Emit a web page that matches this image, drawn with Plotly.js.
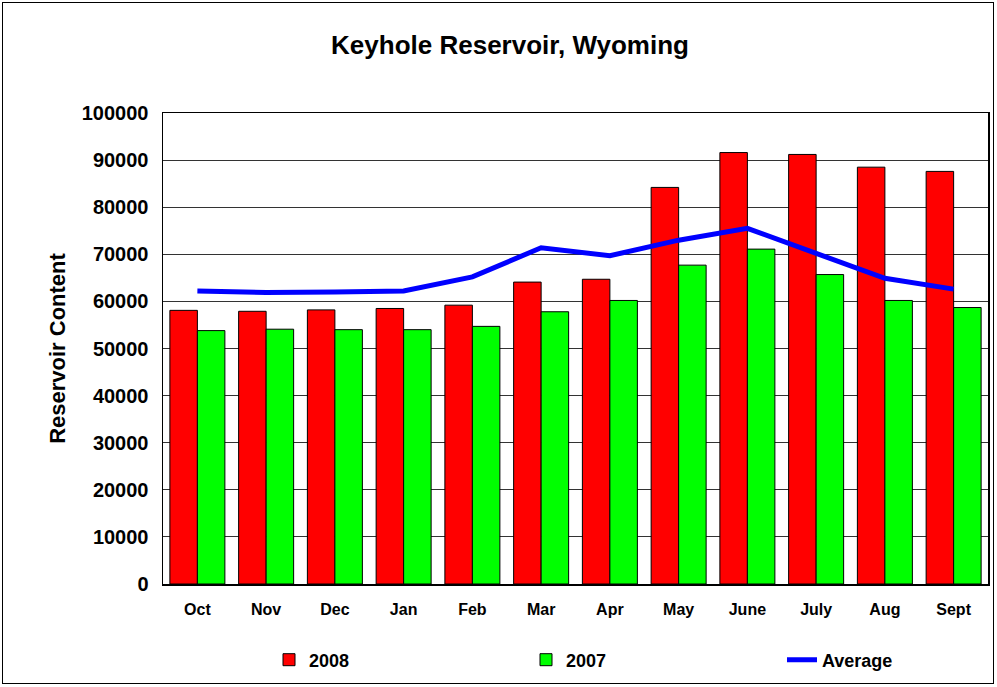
<!DOCTYPE html>
<html>
<head>
<meta charset="utf-8">
<script src="https://cdn.plot.ly/plotly-3.0.1.min.js"></script>
<style>
html,body{margin:0;padding:0;background:#fff;}
#wrap{position:relative;width:997px;height:687px;}
#chart{width:997px;height:687px;}
#frame{position:absolute;left:2px;top:2px;width:992px;height:682px;border:1.5px solid #000;box-sizing:border-box;pointer-events:none;}
</style>
</head>
<body>
<div id="wrap"><div id="chart"></div><div id="frame"></div></div>
<script>
const months = ["Oct","Nov","Dec","Jan","Feb","Mar","Apr","May","June","July","Aug","Sept"];
const y2008 = [58100,57900,58200,58500,59200,64100,64700,84200,91600,91200,88500,87600];
const y2007 = [53800,54100,54000,54000,54700,57800,60200,67700,71100,65700,60200,58700];
const avg = [62200,61900,62000,62200,65200,71400,69700,73000,75500,70300,64900,62600];

const font = "Liberation Sans, Arial, sans-serif";
const W = 997, H = 687;
function lg(px){ return {xref:"container", yref:"container", x:px/W, y:1-660/H, xanchor:"left", yanchor:"middle",
  orientation:"h", font:{size:18, family:font}, bgcolor:"rgba(0,0,0,0)"}; }
const traces = [
  {type:"bar", name:"<b>2008</b>", x:months, y:y2008, legend:"legend", marker:{color:"#ff0000", line:{color:"#000", width:1}}},
  {type:"bar", name:"<b>2007</b>", x:months, y:y2007, legend:"legend2", marker:{color:"#00ff00", line:{color:"#000", width:1}}},
  {type:"scatter", mode:"lines", name:"<b>Average</b>", x:months, y:avg, legend:"legend3", line:{color:"#0000ff", width:5}}
];
const layout = {
  width:W, height:H,
  margin:{l:163, r:9, t:113, b:103},
  paper_bgcolor:"#fff", plot_bgcolor:"#fff",
  font:{family:font, color:"#000"},
  title:{text:"<b>Keyhole Reservoir, Wyoming</b>", font:{size:26, family:font}, xref:"container", yref:"container",
    x:510/W, xanchor:"center", y:1-45/H, yanchor:"middle"},
  barmode:"group", bargap:0.2, bargroupgap:0,
  xaxis:{showline:true, linecolor:"#000", linewidth:1.5, mirror:true, ticks:"", tickfont:{size:16, family:font},
    ticklabelstandoff:10, showgrid:false, tickprefix:"<b>", ticksuffix:"</b>"},
  yaxis:{range:[0,100000], dtick:10000, showline:true, linecolor:"#000", linewidth:1.5, mirror:true, ticks:"", tickformat:"d",
    tickfont:{size:20, family:font}, gridcolor:"#333", gridwidth:1, zeroline:false, ticklabelstandoff:9,
    tickprefix:"<b>", ticksuffix:"</b>",
    title:{text:"<b>Reservoir Content</b>", font:{size:22, family:font}, standoff:10}},
  showlegend:true,
  legend:lg(269), legend2:lg(526), legend3:lg(782)
};
Plotly.newPlot("chart", traces, layout, {displayModeBar:false, staticPlot:true});
</script>
</body>
</html>
